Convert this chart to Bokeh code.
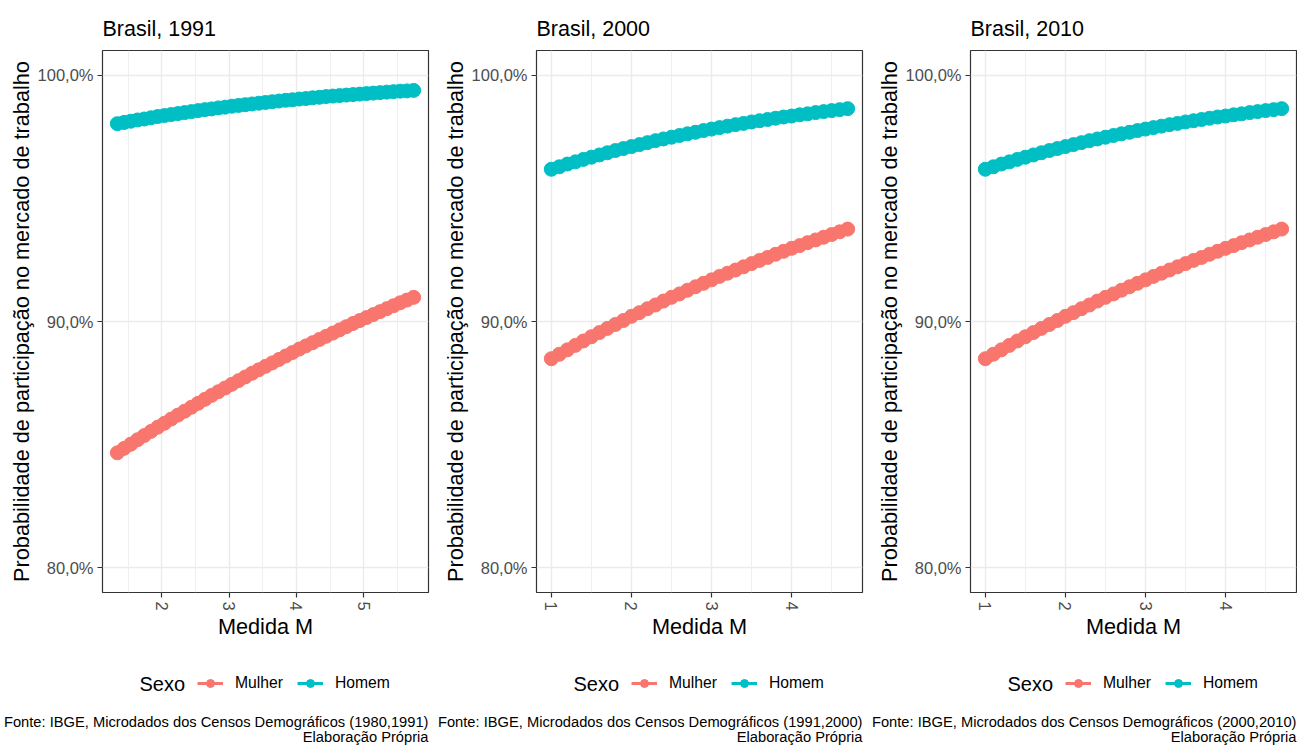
from bokeh.plotting import figure
from bokeh.models import Range1d, FixedTicker, Legend, LegendItem, Label
from bokeh.layouts import row, column
from bokeh.embed import file_html
from bokeh.resources import INLINE

# ---------------- data ----------------
m_1991 = [1.34, 1.44, 1.54, 1.64, 1.74, 1.84, 1.94, 2.04, 2.14, 2.24, 2.34, 2.44,
          2.54, 2.64, 2.74, 2.84, 2.94, 3.04, 3.14, 3.24, 3.34, 3.44, 3.54, 3.64,
          3.74, 3.84, 3.94, 4.04, 4.14, 4.24, 4.34, 4.44, 4.54, 4.64, 4.74, 4.84,
          4.94, 5.04, 5.14, 5.24, 5.34, 5.44, 5.54, 5.64, 5.74]
mulher_1991 = [84.67, 84.85, 85.02, 85.20, 85.37, 85.54, 85.71, 85.87, 86.04, 86.20,
               86.36, 86.52, 86.68, 86.84, 87.00, 87.15, 87.30, 87.45, 87.60, 87.75,
               87.90, 88.04, 88.18, 88.32, 88.46, 88.60, 88.74, 88.88, 89.01, 89.14,
               89.27, 89.40, 89.53, 89.66, 89.79, 89.92, 90.04, 90.16, 90.28, 90.40,
               90.52, 90.64, 90.76, 90.87, 90.98]
homem_1991 = [98.03, 98.08, 98.13, 98.18, 98.22, 98.27, 98.32, 98.36, 98.40, 98.44,
              98.48, 98.52, 98.56, 98.60, 98.63, 98.67, 98.70, 98.74, 98.77, 98.80,
              98.83, 98.86, 98.89, 98.92, 98.95, 98.98, 99.00, 99.03, 99.05, 99.08,
              99.10, 99.13, 99.15, 99.17, 99.19, 99.21, 99.23, 99.25, 99.27, 99.29,
              99.31, 99.33, 99.35, 99.36, 99.38]

m_2000 = [1.0, 1.1, 1.2, 1.3, 1.4, 1.5, 1.6, 1.7, 1.8, 1.9, 2.0, 2.1, 2.2, 2.3,
          2.4, 2.5, 2.6, 2.7, 2.8, 2.9, 3.0, 3.1, 3.2, 3.3, 3.4, 3.5, 3.6, 3.7,
          3.8, 3.9, 4.0, 4.1, 4.2, 4.3, 4.4, 4.5, 4.6, 4.7]
mulher_2000 = [88.49, 88.67, 88.85, 89.03, 89.21, 89.38, 89.55, 89.72, 89.88, 90.04,
               90.21, 90.36, 90.52, 90.67, 90.83, 90.98, 91.12, 91.27, 91.41, 91.55,
               91.69, 91.83, 91.96, 92.09, 92.22, 92.35, 92.48, 92.60, 92.73, 92.85,
               92.97, 93.08, 93.20, 93.31, 93.42, 93.53, 93.64, 93.75]
homem_2000 = [96.18, 96.28, 96.39, 96.48, 96.58, 96.67, 96.76, 96.85, 96.94, 97.02,
              97.10, 97.18, 97.26, 97.34, 97.41, 97.48, 97.55, 97.62, 97.68, 97.75,
              97.81, 97.87, 97.93, 97.99, 98.04, 98.10, 98.15, 98.20, 98.25, 98.30,
              98.34, 98.39, 98.43, 98.48, 98.52, 98.56, 98.60, 98.64]

m_2010 = [1.0, 1.1, 1.2, 1.3, 1.4, 1.5, 1.6, 1.7, 1.8, 1.9, 2.0, 2.1, 2.2, 2.3,
          2.4, 2.5, 2.6, 2.7, 2.8, 2.9, 3.0, 3.1, 3.2, 3.3, 3.4, 3.5, 3.6, 3.7,
          3.8, 3.9, 4.0, 4.1, 4.2, 4.3, 4.4, 4.5, 4.6, 4.7]
mulher_2010 = [88.49, 88.67, 88.85, 89.03, 89.21, 89.38, 89.55, 89.72, 89.88, 90.04,
               90.21, 90.36, 90.52, 90.67, 90.83, 90.98, 91.12, 91.27, 91.41, 91.55,
               91.69, 91.83, 91.96, 92.09, 92.22, 92.35, 92.48, 92.60, 92.73, 92.85,
               92.97, 93.08, 93.20, 93.31, 93.42, 93.53, 93.64, 93.75]
homem_2010 = [96.18, 96.28, 96.39, 96.48, 96.58, 96.67, 96.76, 96.85, 96.94, 97.02,
              97.10, 97.18, 97.26, 97.34, 97.41, 97.48, 97.55, 97.62, 97.68, 97.75,
              97.81, 97.87, 97.93, 97.99, 98.04, 98.10, 98.15, 98.20, 98.25, 98.30,
              98.34, 98.39, 98.43, 98.48, 98.52, 98.56, 98.60, 98.64]

y_ticks = [80, 90, 100]
y_labels = ["80,0%", "90,0%", "100,0%"]
x_ticks_1991 = [2, 3, 4, 5]
x_minor_1991 = [1.5, 2.5, 3.5, 4.5, 5.5]
x_ticks_2000 = [1, 2, 3, 4]
x_minor_2000 = [1.5, 2.5, 3.5, 4.5]

series_names = ["Mulher", "Homem"]
legend_title = "Sexo"
y_label = "Probabilidade de participação no mercado de trabalho"
x_label = "Medida M"
captions = [["Fonte: IBGE, Microdados dos Censos Demográficos (1980,1991)", "Elaboração Própria"],
            ["Fonte: IBGE, Microdados dos Censos Demográficos (1991,2000)", "Elaboração Própria"],
            ["Fonte: IBGE, Microdados dos Censos Demográficos (2000,2010)", "Elaboração Própria"]]

# ---------------- styling ----------------
FONT = "Liberation Sans"
COL_M = "#F8766D"
COL_H = "#00BFC4"
GRID = "#EBEBEB"
BORDER = "#333333"
TICKTXT = "#4D4D4D"
MAIN_H = 650
FOOT_H = 95
TOTAL_W = 1297
PANEL_STEP = 434


def make_panel(title, m, mulher, homem, xticks, xminor, width, right_border):
    ypad = 0.05 * (max(y_ticks) - min(y_ticks))
    xpad = 0.05 * (max(m) - min(m))
    p = figure(width=width, height=MAIN_H, output_backend="svg", toolbar_location=None,
               x_range=Range1d(min(m) - xpad, max(m) + xpad),
               y_range=Range1d(min(y_ticks) - ypad, max(y_ticks) + ypad),
               min_border_left=102, min_border_right=right_border,
               min_border_top=50, min_border_bottom=MAIN_H - 592)
    p.background_fill_color = "white"
    p.border_fill_color = "white"
    p.outline_line_color = BORDER
    p.outline_line_width = 1.2

    p.title.text = title
    p.title.text_font = FONT
    p.title.text_font_size = "21.5px"
    p.title.text_font_style = "normal"
    p.title.text_color = "black"
    p.title.align = "left"
    p.title.standoff = 19

    p.line(m, mulher, line_color=COL_M, line_width=3)
    p.scatter(m, mulher, size=14, fill_color=COL_M, line_color=COL_M)
    p.line(m, homem, line_color=COL_H, line_width=3)
    p.scatter(m, homem, size=14, fill_color=COL_H, line_color=COL_H)

    p.xaxis.ticker = FixedTicker(ticks=xticks, minor_ticks=xminor)
    p.yaxis.ticker = FixedTicker(ticks=y_ticks)
    p.yaxis.major_label_overrides = {t: l for t, l in zip(y_ticks, y_labels)}
    p.xaxis.major_label_orientation = "vertical"

    for ax in (p.xaxis[0], p.yaxis[0]):
        ax.axis_line_color = None
        ax.major_tick_line_color = BORDER
        ax.major_tick_line_width = 1.2
        ax.major_tick_in = 0
        ax.major_tick_out = 5
        ax.minor_tick_line_color = None
        ax.major_label_text_font = FONT
        ax.major_label_text_font_size = "16.5px"
        ax.major_label_text_color = TICKTXT
        ax.major_label_standoff = 4
        ax.axis_label_text_font = FONT
        ax.axis_label_text_font_size = "21.7px"
        ax.axis_label_text_font_style = "normal"
        ax.axis_label_text_color = "black"
    p.xaxis.axis_label_standoff = 0
    p.yaxis.axis_label_standoff = 1
    p.xaxis.axis_label = x_label
    p.yaxis.axis_label = y_label

    p.xgrid.grid_line_color = GRID
    p.xgrid.grid_line_width = 1.4
    p.xgrid.minor_grid_line_color = GRID
    p.xgrid.minor_grid_line_width = 0.8
    p.ygrid.grid_line_color = GRID
    p.ygrid.grid_line_width = 1.4
    return p


p1 = make_panel("Brasil, 1991", m_1991, mulher_1991, homem_1991,
                x_ticks_1991, x_minor_1991, 434, 6)
p2 = make_panel("Brasil, 2000", m_2000, mulher_2000, homem_2000,
                x_ticks_2000, x_minor_2000, 434, 6)
p3 = make_panel("Brasil, 2010", m_2010, mulher_2010, homem_2010,
                x_ticks_2000, x_minor_2000, 429, 1)

# ---------------- footer: pixel-unit canvas with the legends and source notes ----------------
f = figure(width=TOTAL_W, height=FOOT_H, output_backend="svg", toolbar_location=None,
           x_range=Range1d(0, TOTAL_W), y_range=Range1d(0, FOOT_H),
           x_axis_type=None, y_axis_type=None, min_border=0)
f.outline_line_color = None
f.background_fill_color = "white"
f.border_fill_color = "white"
f.grid.visible = False

for i, (m, mulher, homem) in enumerate([(m_1991, mulher_1991, homem_1991),
                                        (m_2000, mulher_2000, homem_2000),
                                        (m_2010, mulher_2010, homem_2010)]):
    off = PANEL_STEP * i
    # key renderers (hidden in the footer, used only for the legend keys)
    km = f.line(m, mulher, line_color=COL_M, line_width=3, visible=False)
    ks = f.scatter(m, mulher, size=14, fill_color=COL_M, line_color=COL_M, visible=False)
    kh = f.line(m, homem, line_color=COL_H, line_width=3, visible=False)
    kt = f.scatter(m, homem, size=14, fill_color=COL_H, line_color=COL_H, visible=False)
    legend = Legend(items=[LegendItem(label=series_names[0], renderers=[km, ks]),
                           LegendItem(label=series_names[1], renderers=[kh, kt])],
                    orientation="horizontal", location=(off + 197, 52))
    legend.label_text_font = FONT
    legend.label_text_font_size = "15.7px"
    legend.label_text_color = "black"
    legend.glyph_width = 26
    legend.glyph_height = 20
    legend.label_height = 20
    legend.label_standoff = 12
    legend.spacing = 14
    legend.border_line_color = None
    legend.background_fill_alpha = 0
    legend.margin = 0
    legend.padding = 0
    f.add_layout(legend)

    f.add_layout(Label(x=off + 139, y=62, text=legend_title, text_font=FONT,
                       text_font_size="20px", text_color="black",
                       text_baseline="middle", text_align="left"))
    for line, yy in zip(captions[i], [24, 9]):
        f.add_layout(Label(x=off + 428, y=yy, text=line, text_font=FONT,
                           text_font_size="14.7px", text_color="black",
                           text_baseline="middle", text_align="right"))

layout = column(row(p1, p2, p3), f)
open("out.html", "w").write(file_html(layout, INLINE))
